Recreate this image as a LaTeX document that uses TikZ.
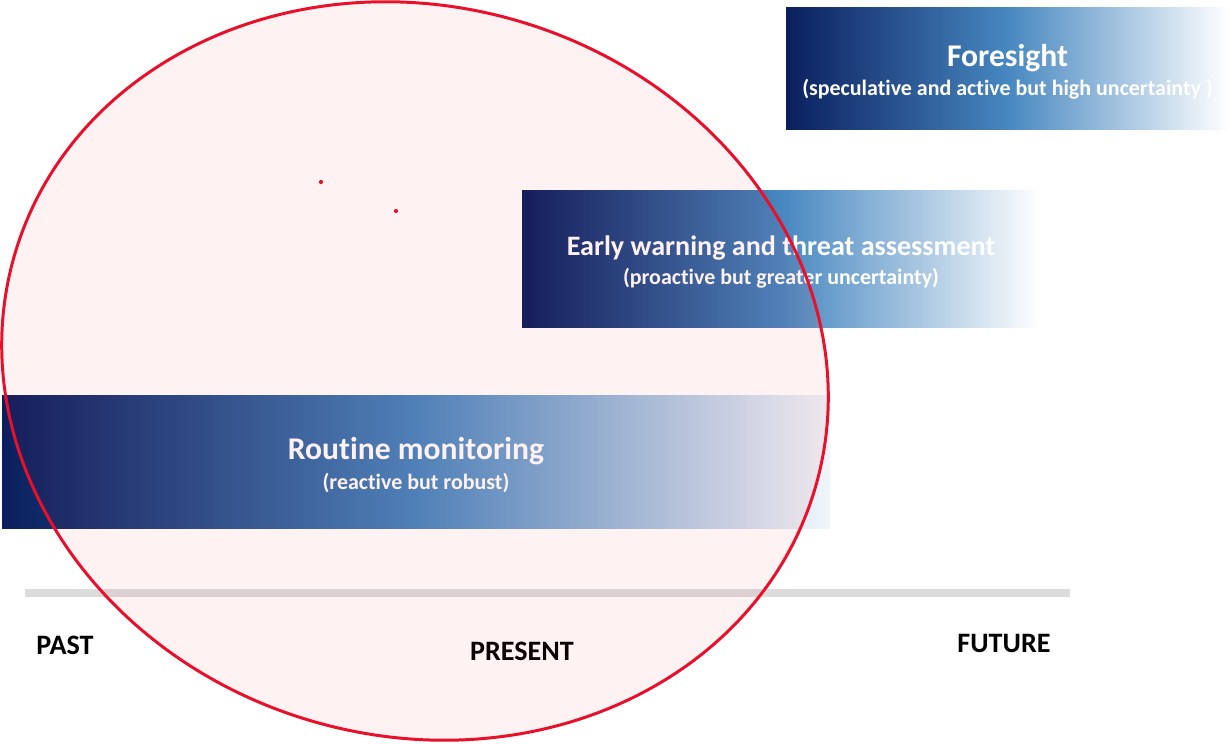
\documentclass[tikz,border=0pt]{standalone}
\usepackage{fontspec}
\setmainfont{Carlito}[Ligatures=NoCommon]

\definecolor{bandnavy}{HTML}{0A1F5E}
\definecolor{bandblue}{HTML}{4787C0}
\definecolor{ringred}{HTML}{E8102A}
\definecolor{axisgray}{HTML}{DCDCDC}

\tikzset{
  band/.style={inner sep=0pt, left color=bandnavy, right color=white,
    middle color=bandblue, text=white, align=center,
    font=\bfseries\fontsize{12.5}{16.8}\selectfont},
  era/.style={font=\bfseries\fontsize{16}{18}\selectfont, text=black},
}

\newcommand{\bandtitle}[2]{{\fontsize{#1}{16.8}\selectfont\rule{0pt}{0.9em}#2}}

\begin{document}
\begin{tikzpicture}[x=0.02cm, y=-0.02cm]
    \useasboundingbox (0,0) rectangle (1229,743);

    % Draw the three shaded bands
    \node[band, minimum width=8.86cm, minimum height=2.46cm] (foresight) at (1007.5,68.5)
        {\bandtitle{18}{Foresight}\\(speculative and active but high uncertainty )};
    \node[band, minimum width=10.36cm, minimum height=2.76cm] (warning) at (781,259)
        {\bandtitle{16}{Early warning and threat assessment}\\(proactive but greater uncertainty)};
    \node[band, right color=white!92!bandblue, middle color=bandblue,
        minimum width=16.56cm, minimum height=2.68cm] (routine) at (416,462)
        {\bandtitle{18}{Routine monitoring}\\(reactive but robust)};

    % Time axis with its labels
    \coordinate (axisstart) at (25,593);
    \coordinate (axisend) at (1070,593);
    \draw[axisgray, line width=4.5pt] (axisstart) -- (axisend);
    \node[era] (past) at (65,645) {PAST};
    \node[era] (present) at (522,651) {PRESENT};
    \node[era] (future) at (1004,643) {FUTURE};

    % Add the red ring over everything
    \draw[ringred, line width=1.7pt, fill=ringred, fill opacity=0.055,
        rotate around={-16:(415,371)}] (415,371) ellipse [x radius=8.34cm, y radius=7.3cm];
    \fill[ringred] (321,182) circle (1.2pt);
    \fill[ringred] (396,211) circle (1.2pt);

\end{tikzpicture}
\end{document}
